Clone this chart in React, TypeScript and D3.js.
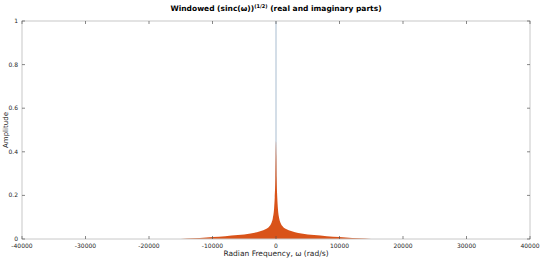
import React from "react";
import * as d3 from "d3";

const xTicks = [-40000, -30000, -20000, -10000, 0, 10000, 20000, 30000, 40000];
const yTicks = [0, 0.2, 0.4, 0.6, 0.8, 1];
const yTickLabels = ["0", "0.2", "0.4", "0.6", "0.8", "1"];

// envelope of imaginary/real part (orange, filled)
const omegaHalf = [0, 50, 100, 200, 300, 500, 700, 1000, 1500, 2000, 3000, 4000, 6000, 8000, 10000, 12000, 14000, 15000];
const ampHalf = [0.45, 0.38, 0.28, 0.19, 0.14, 0.095, 0.075, 0.06, 0.047, 0.04, 0.031, 0.025, 0.018, 0.013, 0.009, 0.005, 0.002, 0.0005];

// real part spike (blue)
const spikeOmega = [0, 0];
const spikeAmp = [0, 1];

const W = 540, H = 259;
const L = 22, R = 530, T = 21, B = 239;

export default function App() {
  const x = d3.scaleLinear().domain([-40000, 40000]).range([L, R]);
  const y = d3.scaleLinear().domain([0, 1]).range([B, T]);

  const pts: [number, number][] = [];
  for (let i = omegaHalf.length - 1; i > 0; i--) pts.push([-omegaHalf[i], ampHalf[i]]);
  for (let i = 0; i < omegaHalf.length; i++) pts.push([omegaHalf[i], ampHalf[i]]);

  const area = d3
    .area<[number, number]>()
    .x((d) => x(d[0]))
    .y0(y(0))
    .y1((d) => y(d[1]))
    .curve(d3.curveMonotoneX);

  const spike = d3
    .line<number>()
    .x((_, i) => x(spikeOmega[i]))
    .y((d) => y(d));

  const font = "DejaVu Sans, sans-serif";
  const tickColor = "#262626";
  const axisColor = "#c8c8c8";

  return (
    <svg width={W} height={H} style={{ position: "absolute", left: 0, top: 0, background: "#fff" }} fontFamily={font}>
      <rect x={0} y={0} width={W} height={H} fill="#fff" />
      <path d={spike(spikeAmp) || ""} stroke="#a9bdd0" strokeWidth={1} fill="none" />
      <path d={area(pts) || ""} fill="#D95319" />
      {/* box */}
      <rect x={L} y={T} width={R - L} height={B - T} fill="none" stroke={axisColor} strokeWidth={1} />
      {xTicks.map((t) => (
        <g key={"x" + t}>
          <line x1={x(t)} x2={x(t)} y1={B} y2={B - 3} stroke="#555" strokeWidth={0.7} />
          <line x1={x(t)} x2={x(t)} y1={T} y2={T + 3} stroke="#555" strokeWidth={0.7} />
          <text x={x(t)} y={B + 9} fontSize={6} textAnchor="middle" fill={tickColor}>
            {t}
          </text>
        </g>
      ))}
      {yTicks.map((t, i) => (
        <g key={"y" + t}>
          <line x1={L} x2={L + 3} y1={y(t)} y2={y(t)} stroke="#555" strokeWidth={0.7} />
          <line x1={R} x2={R - 3} y1={y(t)} y2={y(t)} stroke="#555" strokeWidth={0.7} />
          <text x={L - 4} y={y(t) + 2} fontSize={6} textAnchor="end" fill={tickColor}>
            {yTickLabels[i]}
          </text>
        </g>
      ))}
      <text x={(L + R) / 2} y={11} fontSize={7.5} fontWeight="bold" textAnchor="middle" fill="#000">
        Windowed (sinc(ω))
        <tspan fontSize={5} dy={-3}>(1/2)</tspan>
        <tspan dy={3}> (real and imaginary parts)</tspan>
      </text>
      <text x={(L + R) / 2} y={256} fontSize={7.5} textAnchor="middle" fill={tickColor}>
        Radian Frequency, ω (rad/s)
      </text>
      <text transform={`translate(8, ${(T + B) / 2}) rotate(-90)`} fontSize={7} textAnchor="middle" fill={tickColor}>
        Amplitude
      </text>
    </svg>
  );
}
